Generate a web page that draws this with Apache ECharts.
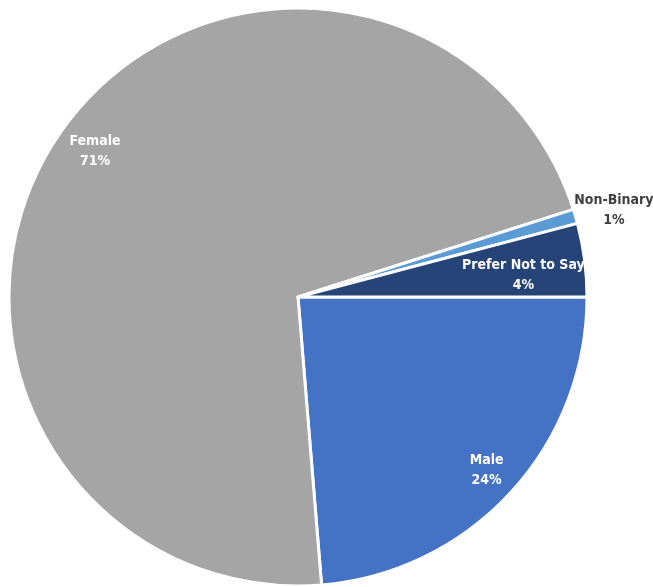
<!DOCTYPE html>
<html>
<head>
<meta charset="utf-8">
<script src="https://cdn.jsdelivr.net/npm/echarts@6/dist/echarts.min.js"></script>
<style>
  html, body { margin: 0; padding: 0; background: #fff; }
  #chart { width: 653px; height: 587px; }
</style>
</head>
<body>
<div id="chart"></div>
<script>
// 数据
var categories = ['Male', 'Female', 'Non-Binary', 'Prefer Not to Say'];
var shares = [23.7, 71.4, 0.8, 4.1];
var colors = ['#4472c4', '#a5a5a5', '#5b9bd5', '#264478'];

var pieCenter = [298, 297];
var pieRadius = 289;

var chart = echarts.init(document.getElementById('chart'));

var sliceData = categories.map(function(name, i) {
	return { name: name, value: shares[i], itemStyle: { color: colors[i] } };
});

// 标签层: 透明的环, 让内部标签落在靠外的位置
var labelData = categories.map(function(name, i) {
	var item = { name: name, value: shares[i] };
	if (name === 'Non-Binary') {
		item.label = { position: 'outside', color: '#404040' };
		item.labelLine = { show: false };
	}
	return item;
});

var labelFont = {
	fontFamily: '"DejaVu Sans Condensed", "Liberation Sans Narrow", sans-serif',
	fontWeight: 'bold',
	fontSize: 14,
	lineHeight: 20,
	align: 'center'
};

chart.setOption({
	backgroundColor: '#fff',
	animation: false,
	series: [{
		type: 'pie',
		center: pieCenter,
		radius: [0, pieRadius],
		startAngle: 0,
		clockwise: true,
		silent: true,
		label: { show: false },
		labelLine: { show: false },
		itemStyle: { borderColor: '#fff', borderWidth: 3 },
		data: sliceData
	}, {
		type: 'pie',
		center: pieCenter,
		radius: [218, pieRadius],
		startAngle: 0,
		clockwise: true,
		silent: true,
		avoidLabelOverlap: false,
		itemStyle: { color: 'rgba(0,0,0,0)', borderWidth: 0 },
		label: {
			show: true,
			position: 'inside',
			color: '#fff',
			overflow: 'none',
			formatter: function(p) {
				return '{t|' + p.name + '}\n{t|' + Math.round(p.percent) + '%}';
			},
			rich: { t: labelFont }
		},
		labelLine: { show: false, length: 7, length2: 0 },
		labelLayout: function(p) {
			if (p.dataIndex === 1) return { dx: 10, dy: -3 };
			if (p.dataIndex === 2) return { dx: -13, dy: -4 };
			if (p.dataIndex === 3) return { dx: -29, dy: 11 };
			return {};
		},
		data: labelData
	}]
});
</script>
</body>
</html>
